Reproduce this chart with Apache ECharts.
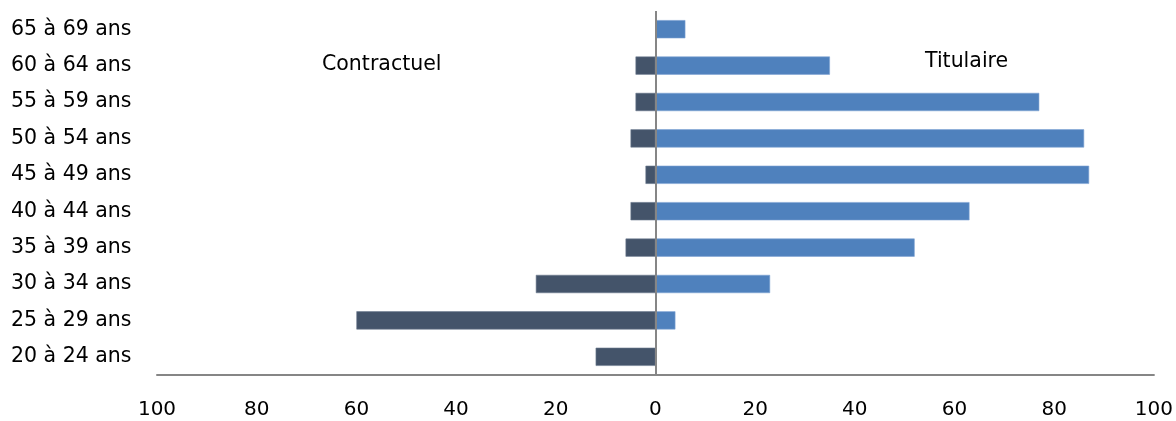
<!DOCTYPE html>
<html>
<head>
<meta charset="utf-8">
<script src="https://cdn.jsdelivr.net/npm/echarts@6/dist/echarts.min.js"></script>
<style>
  html, body { margin: 0; padding: 0; background: #fff; }
  #chart { width: 1176px; height: 421px; }
</style>
</head>
<body>
<div id="chart"></div>
<script>
// Age bands, bottom to top
const ageBands = ['20 à 24 ans', '25 à 29 ans', '30 à 34 ans', '35 à 39 ans', '40 à 44 ans',
                  '45 à 49 ans', '50 à 54 ans', '55 à 59 ans', '60 à 64 ans', '65 à 69 ans'];
// Headcounts per band
const contractuel = [12, 60, 24, 6, 5, 2, 5, 4, 4, null];
const titulaire   = [null, 4, 23, 52, 63, 87, 86, 77, 35, 6];
// Value axis ticks (drawn as absolute values on both sides)
const xTicks = [-100, -80, -60, -40, -20, 0, 20, 40, 60, 80, 100];

const FONT = '"DejaVu Sans", "Open Sans", sans-serif';
const AXIS_GREY = '#868686';

const chart = echarts.init(document.getElementById('chart'), null, { renderer: 'canvas' });

chart.setOption({
  animation: false,
  grid: { left: 157, right: 19, top: 11, bottom: 46, containLabel: false },
  xAxis: {
    type: 'value',
    min: xTicks[0],
    max: xTicks[xTicks.length - 1],
    interval: xTicks[1] - xTicks[0],
    axisLine: { show: true, onZero: false, lineStyle: { color: AXIS_GREY, width: 2 } },
    axisTick: { show: false },
    splitLine: { show: false },
    axisLabel: {
      margin: 25,
      color: '#000',
      fontFamily: FONT,
      fontSize: 20,
      formatter: v => String(Math.abs(v))
    }
  },
  yAxis: {
    type: 'category',
    data: ageBands,
    axisLine: { show: false },
    axisTick: { show: false },
    splitLine: { show: false },
    axisLabel: {
      align: 'left',
      margin: 146,
      color: '#000',
      fontFamily: FONT,
      fontSize: 20.5
    }
  },
  series: [
    {
      name: 'Contractuel',
      type: 'bar',
      stack: 'pyramid',
      barWidth: '50%',
      data: contractuel.map(v => v == null ? null : -v),
      itemStyle: { color: '#44546A', borderColor: '#6b7a8f', borderWidth: 0.6 },
      markLine: {
        silent: true,
        symbol: 'none',
        label: { show: false },
        lineStyle: { color: AXIS_GREY, width: 2, type: 'solid' },
        data: [{ xAxis: 0 }]
      }
    },
    {
      name: 'Titulaire',
      type: 'bar',
      stack: 'pyramid',
      barWidth: '50%',
      data: titulaire,
      itemStyle: { color: '#4F81BD', borderColor: '#7ea3d3', borderWidth: 0.6 }
    }
  ],
  graphic: [
    {
      type: 'text', x: 322, y: 65,
      style: { text: 'Contractuel', fill: '#000', font: '20.5px ' + FONT, verticalAlign: 'middle' }
    },
    {
      type: 'text', x: 925, y: 62,
      style: { text: 'Titulaire', fill: '#000', font: '20.5px ' + FONT, verticalAlign: 'middle' }
    }
  ]
});
</script>
</body>
</html>
